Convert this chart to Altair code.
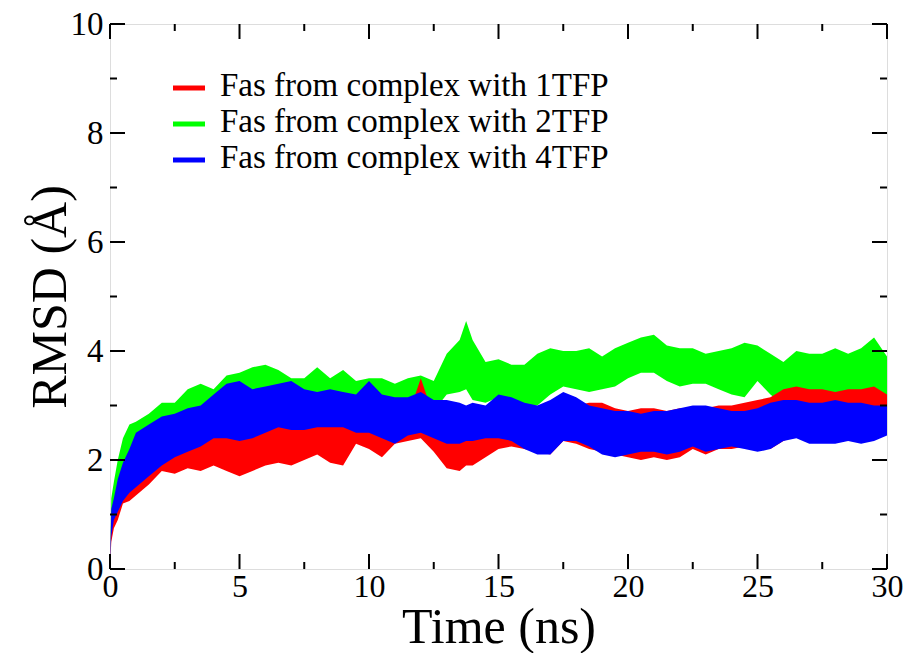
import altair as alt
import pandas as pd

# ---- data ----
time = [0, 0.05, 0.15, 0.3, 0.5, 0.75, 1.0, 1.5, 2.0, 2.5, 3.0, 3.5, 4.0, 4.5, 5.0, 5.5,
        6.0, 6.5, 7.0, 7.5, 8.0, 8.5, 9.0, 9.5, 10.0, 10.5, 11.0, 11.5, 12.0, 12.5,
        13.0, 13.5, 13.75, 14.0, 14.5, 15.0, 15.5, 16.0, 16.5, 17.0, 17.5, 18.0, 18.5,
        19.0, 19.5, 20.0, 20.5, 21.0, 21.5, 22.0, 22.5, 23.0, 23.5, 24.0, 24.5, 25.0,
        25.5, 26.0, 26.5, 27.0, 27.5, 28.0, 28.5, 29.0, 29.5, 30.0]

green_hi = [0, 1.3, 1.6, 2.0, 2.4, 2.65, 2.7, 2.85, 3.05, 3.05, 3.3, 3.4, 3.3, 3.55, 3.6, 3.7,
            3.75, 3.65, 3.5, 3.5, 3.7, 3.5, 3.65, 3.45, 3.5, 3.5, 3.4, 3.5, 3.55, 3.45,
            3.95, 4.2, 4.55, 4.2, 3.8, 3.85, 3.75, 3.75, 3.95, 4.05, 4.0, 4.0, 4.05,
            3.9, 4.05, 4.15, 4.25, 4.3, 4.1, 4.05, 4.05, 3.95, 4.0, 4.05, 4.15, 4.1,
            3.95, 3.8, 4.0, 3.95, 3.95, 4.05, 3.95, 4.05, 4.25, 3.9]
green_lo = [0, 0.9, 1.1, 1.4, 1.7, 1.9, 2.0, 2.1, 2.3, 2.4, 2.5, 2.6, 2.6, 2.6, 2.5, 2.7,
            2.8, 2.9, 2.9, 2.9, 3.0, 2.95, 3.0, 2.95, 3.0, 2.9, 2.9, 2.9, 2.95, 2.9,
            3.2, 3.25, 3.3, 3.1, 3.05, 3.15, 3.1, 3.0, 3.0, 3.2, 3.35, 3.3, 3.25,
            3.3, 3.35, 3.5, 3.6, 3.6, 3.45, 3.35, 3.4, 3.4, 3.3, 3.2, 3.15, 3.45,
            3.2, 3.0, 3.1, 3.15, 3.1, 3.0, 3.0, 3.05, 3.1, 3.05]
red_hi = [0, 0.9, 1.1, 1.4, 1.7, 1.9, 2.0, 2.3, 2.2, 2.3, 2.4, 2.5, 2.6, 2.75, 2.75, 2.7,
          2.75, 2.7, 2.65, 2.6, 2.7, 2.75, 2.7, 2.6, 2.65, 2.7, 2.7, 2.8, 3.5, 2.8,
          2.7, 2.7, 2.75, 2.8, 2.85, 2.9, 2.9, 2.95, 2.95, 2.9, 2.95, 3.0, 3.05,
          3.05, 2.95, 2.9, 2.95, 2.95, 2.9, 2.95, 2.9, 2.95, 3.0, 3.0, 3.05, 3.1,
          3.15, 3.3, 3.35, 3.3, 3.3, 3.25, 3.3, 3.3, 3.35, 3.2]
red_lo = [0, 0.5, 0.75, 0.9, 1.2, 1.25, 1.35, 1.55, 1.8, 1.75, 1.85, 1.8, 1.9, 1.8, 1.7, 1.8,
          1.9, 1.95, 1.9, 2.0, 2.1, 1.95, 1.9, 2.3, 2.2, 2.05, 2.3, 2.35, 2.4, 2.15,
          1.85, 1.8, 1.9, 1.9, 2.05, 2.2, 2.25, 2.2, 2.15, 2.1, 2.35, 2.3, 2.2,
          2.15, 2.1, 2.05, 2.0, 2.05, 2.0, 2.05, 2.2, 2.1, 2.2, 2.2, 2.25, 2.2,
          2.2, 2.35, 2.45, 2.45, 2.45, 2.5, 2.5, 2.5, 2.5, 2.55]
blue_hi = [0, 1.1, 1.3, 1.65, 1.95, 2.2, 2.5, 2.65, 2.8, 2.85, 2.95, 3.0, 3.2, 3.4, 3.45, 3.3,
           3.35, 3.4, 3.45, 3.3, 3.25, 3.3, 3.25, 3.2, 3.45, 3.2, 3.15, 3.15, 3.25, 3.1,
           3.1, 3.05, 3.0, 3.05, 3.0, 3.2, 3.15, 3.05, 3.0, 3.1, 3.25, 3.15, 3.0,
           2.95, 2.9, 2.9, 2.85, 2.9, 2.9, 2.95, 3.0, 3.0, 2.95, 2.9, 2.9, 2.95,
           3.05, 3.1, 3.1, 3.05, 3.05, 3.1, 3.05, 3.05, 3.0, 3.0]
blue_lo = [0, 0.6, 0.9, 1.05, 1.25, 1.4, 1.5, 1.7, 1.9, 2.05, 2.15, 2.25, 2.4, 2.4, 2.35, 2.4,
           2.5, 2.6, 2.55, 2.55, 2.6, 2.6, 2.6, 2.5, 2.5, 2.4, 2.3, 2.45, 2.5, 2.4,
           2.3, 2.3, 2.35, 2.35, 2.4, 2.4, 2.35, 2.2, 2.1, 2.1, 2.35, 2.35, 2.25,
           2.1, 2.05, 2.1, 2.15, 2.15, 2.1, 2.15, 2.25, 2.15, 2.2, 2.25, 2.2, 2.15,
           2.2, 2.35, 2.4, 2.3, 2.3, 2.3, 2.35, 2.3, 2.35, 2.45]

series = ["Fas from complex with 1TFP", "Fas from complex with 2TFP", "Fas from complex with 4TFP"]
colors = ["#ff0000", "#00ff00", "#0000ff"]

x_major = [0, 5, 10, 15, 20, 25, 30]
x_minor = [2.5, 7.5, 12.5, 17.5, 22.5, 27.5]
y_major = [0, 2, 4, 6, 8, 10]
y_minor = [1, 3, 5, 7, 9]

W, H = 777, 545
FONT = "Liberation Serif"

xs = alt.Scale(domain=[0, 30], nice=False, zero=False)
ys = alt.Scale(domain=[0, 10], nice=False)

rows = []
for name, lo, hi in [(series[1], green_lo, green_hi), (series[0], red_lo, red_hi), (series[2], blue_lo, blue_hi)]:
    for t, a, b in zip(time, lo, hi):
        rows.append({"series": name, "t": t, "lo": a, "hi": b})
df = pd.DataFrame(rows)

x_axis = alt.Axis(values=x_major, title="Time (ns)", format="d", ticks=False, domain=False, grid=False,
                  labelFont=FONT, labelFontSize=32, labelColor="black", labelPadding=2,
                  titleFont=FONT, titleFontSize=50, titleFontWeight="normal", titleColor="black",
                  titleBaseline="alphabetic", titleY=73, labelFlush=False)
y_axis = alt.Axis(values=y_major, title="RMSD (Å)", format="d", ticks=False, domain=False, grid=False,
                  labelFont=FONT, labelFontSize=33, labelColor="black", labelPadding=7,
                  titleFont=FONT, titleFontSize=50, titleFontWeight="normal", titleColor="black",
                  titleBaseline="alphabetic", titleX=-45, labelFlush=False)

layers = []
for name, col in [(series[1], colors[1]), (series[0], colors[0]), (series[2], colors[2])]:
    layers.append(
        alt.Chart(df[df.series == name]).mark_area(color=col, opacity=1).encode(
            x=alt.X("t:Q", scale=xs, axis=x_axis),
            y=alt.Y("lo:Q", scale=ys, axis=y_axis),
            y2="hi:Q",
        )
    )

# inward tick marks on all four sides
def xticks(vals, length):
    d = pd.DataFrame({"v": vals})
    b = alt.Chart(d).mark_rule(color="black", strokeWidth=2).encode(
        x=alt.X("v:Q", scale=xs, axis=x_axis), y=alt.value(H), y2=alt.value(H - length))
    t = alt.Chart(d).mark_rule(color="black", strokeWidth=2).encode(
        x=alt.X("v:Q", scale=xs, axis=x_axis), y=alt.value(0), y2=alt.value(length))
    return [b, t]

def yticks(vals, length):
    d = pd.DataFrame({"v": vals})
    l = alt.Chart(d).mark_rule(color="black", strokeWidth=2).encode(
        y=alt.Y("v:Q", scale=ys, axis=y_axis), x=alt.value(0), x2=alt.value(length))
    r = alt.Chart(d).mark_rule(color="black", strokeWidth=2).encode(
        y=alt.Y("v:Q", scale=ys, axis=y_axis), x=alt.value(W), x2=alt.value(W - length))
    return [l, r]

layers += xticks(x_major, 15) + xticks(x_minor, 7) + yticks(y_major, 15) + yticks(y_minor, 7)

# legend
leg_y = [64, 100, 136]
for i in range(3):
    layers.append(alt.Chart(pd.DataFrame({"k": [series[i]]})).mark_rule(color=colors[i], strokeWidth=5).encode(
        x=alt.value(63), x2=alt.value(95), y=alt.value(leg_y[i])))
    layers.append(alt.Chart(pd.DataFrame({"k": [series[i]]})).mark_text(
        align="left", baseline="alphabetic", font=FONT, fontSize=33, color="black").encode(
        x=alt.value(110), y=alt.value(leg_y[i] + 8), text="k:N"))

chart = alt.layer(*layers).properties(
    width=W, height=H,
    autosize=alt.AutoSizeParams(type="none"),
    padding={"left": 110, "top": 24, "right": 22, "bottom": 84},
).configure_view(stroke="#222222", strokeWidth=2).configure(background="white")

chart.save("out.html", embed_options={"renderer": "svg", "actions": False})
